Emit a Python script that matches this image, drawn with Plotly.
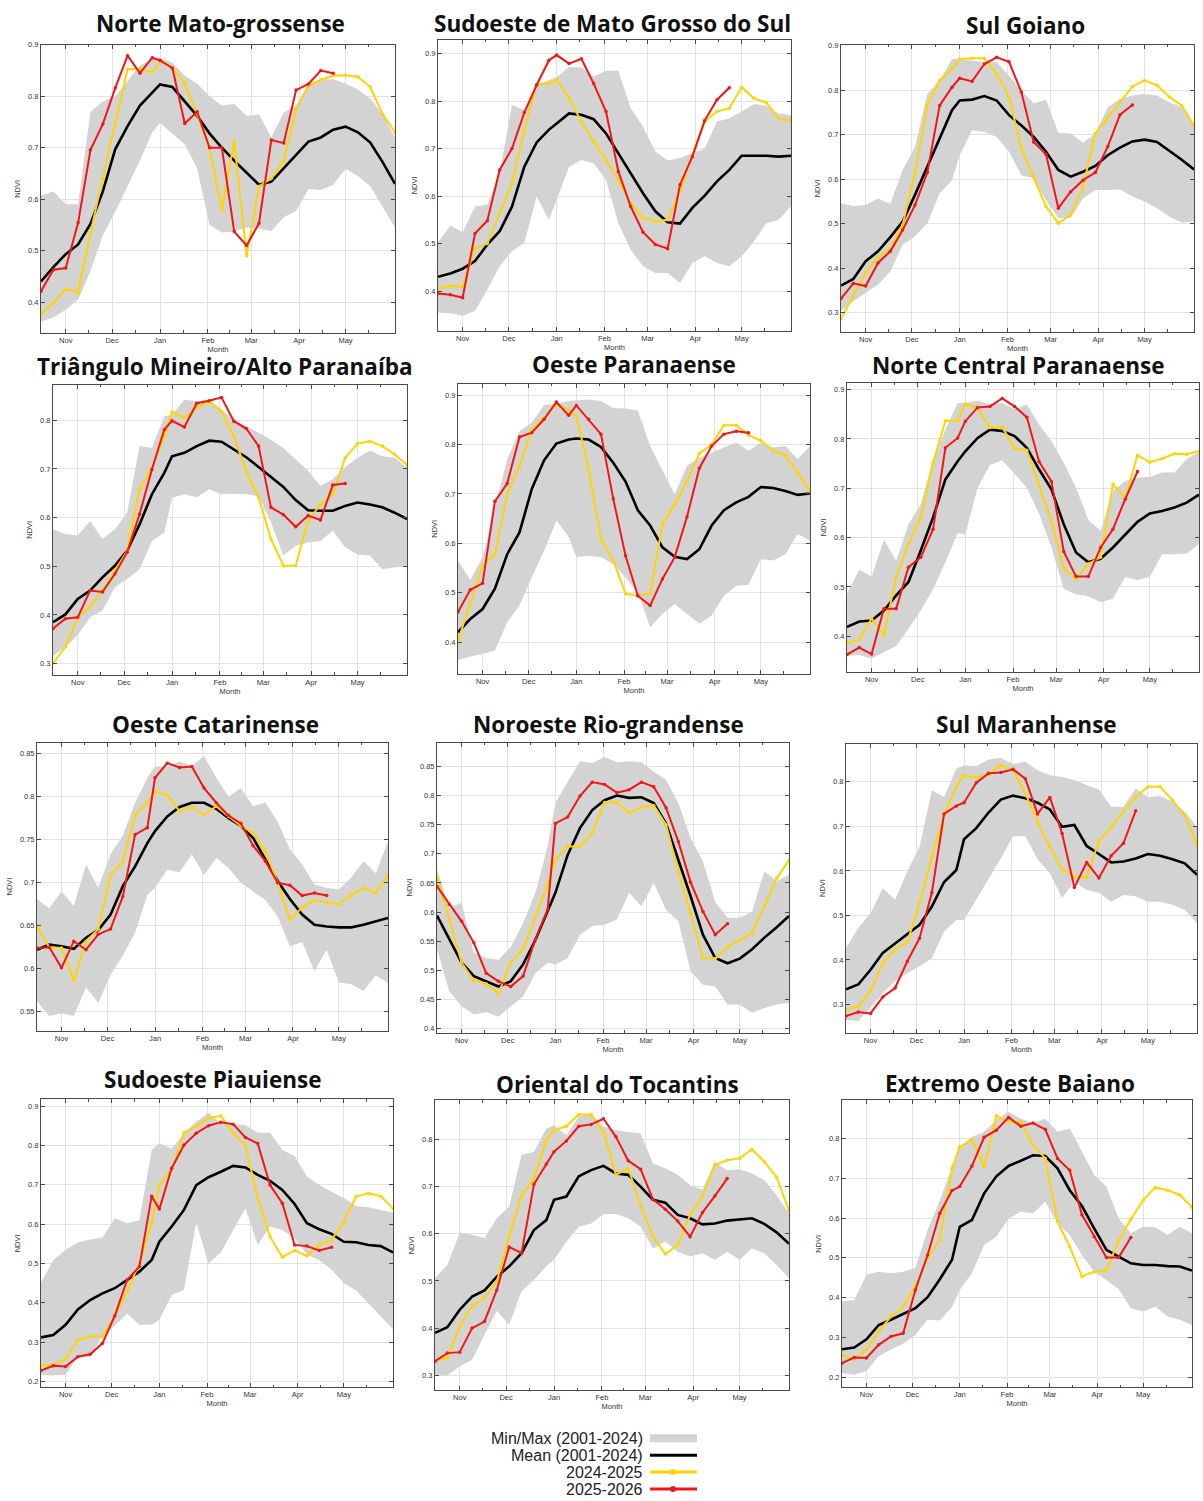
import plotly.graph_objects as go

W, H = 1203, 1501

dates = ["2025-10-16", "2025-10-24", "2025-11-01", "2025-11-09", "2025-11-17", "2025-11-25",
         "2025-12-03", "2025-12-11", "2025-12-19", "2025-12-27", "2026-01-01", "2026-01-09",
         "2026-01-17", "2026-01-25", "2026-02-02", "2026-02-10", "2026-02-18", "2026-02-26",
         "2026-03-06", "2026-03-14", "2026-03-22", "2026-03-30", "2026-04-07", "2026-04-15",
         "2026-04-23", "2026-05-01", "2026-05-09", "2026-05-17", "2026-05-25", "2026-06-02"]
month_ticks = ["2025-11-01", "2025-12-01", "2026-01-01", "2026-02-01", "2026-03-01", "2026-04-01", "2026-05-01"]
month_labels = ["Nov", "Dec", "Jan", "Feb", "Mar", "Apr", "May"]
minor_ticks = ["2025-10-16", "2025-11-16", "2025-12-16", "2026-01-16", "2026-02-15", "2026-03-16", "2026-04-16", "2026-05-16"]

series_names = ["Min/Max (2001-2024)", "Mean (2001-2024)", "2024-2025", "2025-2026"]

# 1 Norte Mato-grossense
nmg_min = [0.362,0.370,0.385,0.405,0.460,0.530,0.575,0.625,0.675,0.730,0.748,0.727,0.707,0.660,0.550,0.535,0.537,0.545,0.543,0.538,0.565,0.577,0.620,0.618,0.628,0.659,0.645,0.625,0.585,0.545]
nmg_max = [0.607,0.615,0.590,0.590,0.770,0.790,0.800,0.830,0.860,0.872,0.875,0.865,0.840,0.825,0.800,0.782,0.785,0.762,0.765,0.720,0.768,0.782,0.825,0.833,0.833,0.825,0.813,0.795,0.765,0.720]
nmg_mean = [0.440,0.468,0.493,0.512,0.552,0.615,0.697,0.742,0.782,0.806,0.823,0.818,0.790,0.762,0.728,0.700,0.675,0.652,0.628,0.634,0.660,0.685,0.712,0.720,0.735,0.741,0.730,0.710,0.672,0.630]
nmg_2425 = [0.377,0.398,0.425,0.419,0.535,0.640,0.750,0.853,0.853,0.847,0.868,0.855,0.825,0.765,0.700,0.580,0.713,0.490,0.625,0.640,0.675,0.775,0.820,0.832,0.840,0.841,0.838,0.818,0.765,0.730]
nmg_2526 = [0.421,0.463,0.466,0.554,0.696,0.746,0.816,0.879,0.845,0.875,0.870,0.855,0.747,0.770,0.700,0.700,0.537,0.510,0.553,0.715,0.709,0.812,0.824,0.850,0.845]

# 2 Sudoeste de Mato Grosso do Sul
sms_min = [0.355,0.353,0.348,0.358,0.403,0.452,0.484,0.501,0.599,0.550,0.592,0.662,0.676,0.669,0.634,0.543,0.487,0.452,0.438,0.438,0.417,0.459,0.473,0.459,0.452,0.473,0.505,0.543,0.550,0.578]
sms_max = [0.503,0.538,0.524,0.578,0.582,0.648,0.792,0.781,0.834,0.844,0.851,0.872,0.871,0.852,0.864,0.864,0.785,0.746,0.694,0.675,0.680,0.690,0.700,0.757,0.764,0.778,0.794,0.790,0.774,0.771]
sms_mean = [0.430,0.437,0.447,0.463,0.498,0.526,0.578,0.662,0.713,0.740,0.753,0.774,0.771,0.762,0.732,0.690,0.648,0.606,0.568,0.545,0.542,0.575,0.601,0.631,0.655,0.685,0.685,0.685,0.683,0.685]
sms_2425 = [0.406,0.410,0.410,0.489,0.500,0.564,0.627,0.740,0.835,0.837,0.845,0.806,0.757,0.715,0.676,0.634,0.585,0.554,0.547,0.550,0.610,0.687,0.757,0.778,0.785,0.829,0.806,0.797,0.763,0.759]
sms_2526 = [0.395,0.392,0.386,0.521,0.548,0.655,0.700,0.776,0.834,0.886,0.897,0.879,0.889,0.837,0.778,0.652,0.578,0.524,0.498,0.489,0.624,0.683,0.759,0.803,0.828]

# 3 Sul Goiano
sg_min = [0.304,0.326,0.345,0.363,0.393,0.453,0.472,0.501,0.568,0.598,0.654,0.710,0.706,0.695,0.662,0.609,0.602,0.553,0.513,0.513,0.557,0.576,0.576,0.577,0.561,0.550,0.535,0.516,0.503,0.505]
sg_max = [0.546,0.540,0.542,0.557,0.545,0.621,0.673,0.792,0.822,0.870,0.870,0.866,0.863,0.863,0.833,0.799,0.770,0.779,0.704,0.703,0.682,0.703,0.762,0.781,0.788,0.792,0.788,0.773,0.762,0.721]
sg_mean = [0.361,0.376,0.416,0.438,0.470,0.505,0.565,0.628,0.688,0.755,0.777,0.779,0.787,0.777,0.744,0.721,0.695,0.662,0.621,0.606,0.617,0.630,0.654,0.671,0.685,0.689,0.684,0.665,0.644,0.622]
sg_2425 = [0.287,0.337,0.390,0.425,0.443,0.498,0.613,0.766,0.822,0.848,0.870,0.872,0.872,0.837,0.785,0.669,0.606,0.539,0.501,0.520,0.583,0.703,0.738,0.773,0.808,0.822,0.811,0.785,0.766,0.721]
sg_2526 = [0.332,0.366,0.360,0.412,0.438,0.486,0.542,0.615,0.766,0.807,0.827,0.820,0.859,0.874,0.864,0.796,0.684,0.656,0.535,0.572,0.598,0.615,0.673,0.745,0.767]

# 4 Triangulo Mineiro/Alto Paranaiba
tm_min = [0.315,0.334,0.358,0.395,0.409,0.457,0.474,0.494,0.552,0.569,0.641,0.648,0.642,0.658,0.648,0.649,0.648,0.644,0.590,0.522,0.542,0.549,0.552,0.573,0.539,0.524,0.522,0.494,0.498,0.499]
tm_max = [0.576,0.566,0.563,0.593,0.556,0.576,0.610,0.747,0.743,0.808,0.812,0.842,0.839,0.842,0.822,0.801,0.788,0.774,0.760,0.743,0.720,0.696,0.665,0.679,0.704,0.723,0.738,0.726,0.723,0.702]
tm_mean = [0.385,0.401,0.433,0.450,0.477,0.501,0.532,0.586,0.648,0.692,0.726,0.733,0.747,0.758,0.756,0.740,0.724,0.704,0.683,0.663,0.636,0.615,0.614,0.614,0.624,0.631,0.627,0.621,0.610,0.597]
tm_2425 = [0.301,0.334,0.395,0.417,0.450,0.491,0.532,0.658,0.702,0.767,0.817,0.805,0.825,0.838,0.818,0.767,0.696,0.641,0.556,0.501,0.501,0.593,0.627,0.648,0.723,0.752,0.757,0.747,0.730,0.708]
tm_2526 = [0.372,0.392,0.395,0.450,0.447,0.484,0.529,0.607,0.699,0.781,0.799,0.786,0.835,0.840,0.847,0.798,0.783,0.747,0.621,0.606,0.581,0.604,0.595,0.667,0.670]

# 5 Oeste Paranaense
op_min = [0.364,0.371,0.376,0.383,0.440,0.474,0.531,0.585,0.646,0.613,0.572,0.575,0.572,0.558,0.531,0.501,0.430,0.457,0.477,0.457,0.437,0.454,0.494,0.514,0.516,0.568,0.565,0.578,0.619,0.605]
op_max = [0.565,0.526,0.572,0.673,0.770,0.827,0.844,0.880,0.882,0.888,0.889,0.891,0.888,0.874,0.873,0.869,0.797,0.747,0.699,0.757,0.773,0.784,0.794,0.804,0.787,0.804,0.794,0.797,0.770,0.797]
op_mean = [0.420,0.447,0.467,0.508,0.578,0.622,0.710,0.768,0.802,0.810,0.812,0.810,0.795,0.763,0.725,0.667,0.636,0.592,0.573,0.568,0.588,0.636,0.667,0.683,0.694,0.714,0.712,0.706,0.698,0.701]
op_2425 = [0.403,0.477,0.555,0.578,0.700,0.755,0.831,0.854,0.881,0.871,0.858,0.750,0.609,0.565,0.498,0.494,0.498,0.639,0.678,0.726,0.782,0.800,0.839,0.839,0.819,0.808,0.787,0.778,0.741,0.706]
op_2526 = [0.461,0.506,0.519,0.685,0.721,0.815,0.824,0.851,0.886,0.859,0.879,0.851,0.821,0.690,0.575,0.494,0.474,0.528,0.572,0.654,0.752,0.797,0.821,0.827,0.824]

# 6 Norte Central Paranaense
ncp_min = [0.360,0.362,0.355,0.368,0.380,0.415,0.452,0.496,0.550,0.609,0.607,0.701,0.747,0.757,0.728,0.701,0.648,0.580,0.496,0.485,0.481,0.469,0.476,0.520,0.514,0.520,0.566,0.566,0.568,0.587]
ncp_max = [0.486,0.535,0.521,0.596,0.553,0.627,0.668,0.759,0.819,0.873,0.873,0.878,0.870,0.873,0.860,0.870,0.829,0.796,0.752,0.701,0.636,0.614,0.695,0.715,0.722,0.723,0.732,0.732,0.759,0.774]
ncp_mean = [0.419,0.430,0.432,0.452,0.483,0.510,0.574,0.641,0.718,0.755,0.775,0.802,0.819,0.816,0.806,0.782,0.738,0.698,0.627,0.570,0.550,0.557,0.580,0.607,0.632,0.649,0.654,0.661,0.671,0.687]
ncp_2425 = [0.387,0.393,0.436,0.402,0.520,0.587,0.641,0.752,0.837,0.837,0.871,0.863,0.823,0.824,0.781,0.777,0.705,0.634,0.537,0.516,0.547,0.560,0.708,0.680,0.767,0.753,0.760,0.770,0.769,0.775]
ncp_2526 = [0.363,0.377,0.364,0.456,0.456,0.540,0.560,0.617,0.782,0.802,0.836,0.864,0.866,0.882,0.866,0.844,0.754,0.714,0.572,0.521,0.521,0.580,0.617,0.678,0.734]

# 7 Oeste Catarinense
oc_min = [0.562,0.545,0.548,0.545,0.578,0.560,0.593,0.615,0.642,0.686,0.694,0.715,0.712,0.733,0.709,0.729,0.717,0.700,0.690,0.680,0.661,0.626,0.631,0.597,0.622,0.584,0.582,0.574,0.592,0.584]
oc_max = [0.681,0.670,0.690,0.673,0.721,0.694,0.733,0.755,0.793,0.822,0.835,0.835,0.841,0.836,0.847,0.822,0.800,0.810,0.789,0.793,0.771,0.739,0.721,0.698,0.694,0.692,0.706,0.725,0.711,0.748]
oc_mean = [0.622,0.628,0.626,0.623,0.636,0.645,0.663,0.696,0.719,0.746,0.760,0.777,0.788,0.793,0.793,0.786,0.775,0.766,0.752,0.727,0.702,0.681,0.663,0.651,0.649,0.648,0.648,0.651,0.655,0.659]
oc_2425 = [0.649,0.625,0.624,0.586,0.632,0.646,0.709,0.724,0.779,0.793,0.806,0.802,0.783,0.788,0.779,0.789,0.777,0.766,0.758,0.737,0.700,0.657,0.671,0.680,0.677,0.675,0.685,0.694,0.688,0.709]
oc_2526 = [0.624,0.625,0.601,0.632,0.622,0.640,0.646,0.684,0.756,0.764,0.822,0.839,0.834,0.835,0.810,0.793,0.778,0.769,0.743,0.725,0.700,0.697,0.685,0.688,0.685]

# 8 Noroeste Rio-grandense
nrg_min = [0.536,0.464,0.438,0.424,0.428,0.420,0.438,0.455,0.495,0.513,0.510,0.521,0.561,0.576,0.578,0.587,0.633,0.610,0.650,0.604,0.584,0.498,0.475,0.472,0.441,0.441,0.427,0.435,0.441,0.444]
nrg_max = [0.673,0.607,0.616,0.530,0.521,0.518,0.540,0.581,0.633,0.713,0.787,0.824,0.859,0.856,0.866,0.857,0.859,0.857,0.841,0.827,0.787,0.727,0.687,0.617,0.590,0.590,0.601,0.670,0.653,0.664]
nrg_mean = [0.594,0.554,0.513,0.490,0.481,0.472,0.481,0.510,0.552,0.601,0.633,0.698,0.744,0.775,0.792,0.800,0.796,0.797,0.787,0.752,0.690,0.627,0.561,0.521,0.512,0.520,0.536,0.556,0.574,0.593]
nrg_2425 = [0.661,0.587,0.513,0.482,0.477,0.460,0.513,0.536,0.590,0.647,0.690,0.713,0.712,0.736,0.788,0.788,0.770,0.780,0.783,0.750,0.670,0.598,0.521,0.520,0.540,0.552,0.564,0.610,0.658,0.689]
nrg_2526 = [0.644,0.613,0.584,0.547,0.495,0.481,0.472,0.490,0.553,0.604,0.752,0.763,0.799,0.823,0.819,0.805,0.810,0.823,0.815,0.779,0.721,0.651,0.601,0.561,0.580]

# 9 Sul Maranhense
sm_min = [0.265,0.263,0.293,0.326,0.352,0.371,0.386,0.404,0.464,0.490,0.490,0.535,0.580,0.628,0.678,0.678,0.626,0.595,0.539,0.576,0.557,0.551,0.531,0.546,0.543,0.531,0.531,0.524,0.513,0.483]
sm_max = [0.427,0.472,0.505,0.561,0.535,0.599,0.654,0.781,0.766,0.830,0.837,0.835,0.850,0.854,0.840,0.845,0.826,0.815,0.811,0.804,0.793,0.783,0.744,0.744,0.785,0.766,0.768,0.755,0.733,0.699]
sm_mean = [0.334,0.345,0.378,0.416,0.437,0.457,0.479,0.520,0.575,0.602,0.671,0.696,0.731,0.760,0.769,0.763,0.753,0.738,0.699,0.703,0.656,0.638,0.619,0.621,0.628,0.638,0.634,0.626,0.617,0.591]
sm_2425 = [0.290,0.295,0.330,0.393,0.423,0.440,0.528,0.632,0.725,0.789,0.815,0.810,0.817,0.837,0.826,0.774,0.710,0.654,0.604,0.587,0.586,0.666,0.699,0.733,0.766,0.789,0.789,0.759,0.725,0.658]
sm_2526 = [0.274,0.283,0.280,0.317,0.337,0.397,0.449,0.551,0.728,0.746,0.753,0.798,0.819,0.821,0.828,0.807,0.728,0.765,0.684,0.563,0.619,0.584,0.634,0.662,0.735]

# 10 Sudoeste Piauiense
sp_min = [0.217,0.215,0.217,0.263,0.263,0.318,0.341,0.373,0.344,0.344,0.357,0.420,0.433,0.604,0.500,0.528,0.585,0.640,0.547,0.594,0.585,0.564,0.522,0.509,0.484,0.450,0.431,0.399,0.365,0.333]
sp_max = [0.450,0.509,0.535,0.553,0.561,0.566,0.615,0.602,0.610,0.788,0.806,0.792,0.831,0.860,0.883,0.856,0.854,0.852,0.832,0.832,0.788,0.773,0.721,0.699,0.682,0.666,0.646,0.643,0.636,0.629]
sp_mean = [0.312,0.318,0.344,0.383,0.407,0.424,0.437,0.458,0.479,0.509,0.555,0.594,0.636,0.699,0.719,0.733,0.748,0.744,0.725,0.710,0.687,0.651,0.602,0.587,0.575,0.555,0.554,0.547,0.544,0.528]
sp_2425 = [0.242,0.242,0.257,0.306,0.314,0.314,0.365,0.428,0.500,0.602,0.699,0.738,0.832,0.848,0.869,0.875,0.831,0.801,0.666,0.568,0.516,0.533,0.519,0.547,0.560,0.606,0.670,0.678,0.671,0.640]
sp_2526 = [0.228,0.240,0.238,0.263,0.269,0.297,0.367,0.458,0.492,0.671,0.638,0.742,0.801,0.831,0.850,0.859,0.854,0.820,0.805,0.699,0.653,0.547,0.544,0.533,0.541]

# 11 Oriental do Tocantins
ot_min = [0.301,0.299,0.319,0.333,0.386,0.437,0.407,0.478,0.502,0.531,0.545,0.583,0.615,0.622,0.642,0.642,0.633,0.615,0.569,0.583,0.562,0.552,0.559,0.545,0.562,0.545,0.569,0.559,0.534,0.506]
ot_max = [0.506,0.534,0.603,0.598,0.591,0.633,0.658,0.767,0.774,0.823,0.830,0.809,0.849,0.854,0.827,0.820,0.816,0.813,0.749,0.739,0.725,0.703,0.694,0.753,0.735,0.737,0.728,0.714,0.682,0.643]
ot_mean = [0.390,0.402,0.439,0.467,0.480,0.509,0.531,0.559,0.608,0.629,0.672,0.679,0.722,0.735,0.744,0.728,0.725,0.700,0.672,0.666,0.640,0.633,0.620,0.622,0.628,0.631,0.633,0.621,0.603,0.579]
ot_2425 = [0.330,0.337,0.404,0.447,0.464,0.499,0.594,0.680,0.717,0.799,0.820,0.828,0.853,0.853,0.816,0.725,0.739,0.661,0.594,0.557,0.576,0.640,0.679,0.746,0.756,0.760,0.779,0.753,0.720,0.649]
ot_2526 = [0.330,0.347,0.349,0.400,0.414,0.481,0.572,0.559,0.705,0.748,0.774,0.797,0.828,0.832,0.844,0.806,0.755,0.737,0.673,0.652,0.627,0.594,0.645,0.680,0.717]

# 12 Extremo Oeste Baiano
eob_min = [0.210,0.206,0.215,0.252,0.269,0.284,0.306,0.344,0.342,0.376,0.419,0.461,0.532,0.553,0.599,0.616,0.612,0.641,0.587,0.557,0.507,0.465,0.444,0.421,0.373,0.365,0.377,0.352,0.344,0.331]
eob_max = [0.390,0.394,0.457,0.465,0.461,0.465,0.474,0.570,0.645,0.725,0.779,0.804,0.817,0.848,0.867,0.850,0.839,0.850,0.817,0.825,0.767,0.708,0.679,0.599,0.562,0.578,0.577,0.557,0.578,0.562]
eob_mean = [0.270,0.274,0.295,0.331,0.344,0.359,0.373,0.401,0.446,0.495,0.578,0.595,0.662,0.705,0.731,0.744,0.758,0.756,0.725,0.670,0.630,0.574,0.520,0.503,0.486,0.482,0.482,0.479,0.478,0.468]
eob_2425 = [0.254,0.245,0.269,0.315,0.352,0.377,0.428,0.499,0.546,0.725,0.779,0.797,0.729,0.857,0.842,0.842,0.783,0.750,0.591,0.528,0.453,0.465,0.469,0.543,0.597,0.645,0.677,0.670,0.658,0.627]
eob_2526 = [0.235,0.249,0.248,0.281,0.302,0.310,0.419,0.507,0.612,0.669,0.679,0.731,0.803,0.821,0.853,0.831,0.839,0.823,0.750,0.720,0.608,0.553,0.501,0.501,0.551]

titles = ["Norte Mato-grossense", "Sudoeste de Mato Grosso do Sul", "Sul Goiano",
          "Triângulo Mineiro/Alto Paranaíba", "Oeste Paranaense", "Norte Central Paranaense",
          "Oeste Catarinense", "Noroeste Rio-grandense", "Sul Maranhense",
          "Sudoeste Piauiense", "Oriental do Tocantins", "Extremo Oeste Baiano"]

panel_data = [
    (nmg_min, nmg_max, nmg_mean, nmg_2425, nmg_2526),
    (sms_min, sms_max, sms_mean, sms_2425, sms_2526),
    (sg_min, sg_max, sg_mean, sg_2425, sg_2526),
    (tm_min, tm_max, tm_mean, tm_2425, tm_2526),
    (op_min, op_max, op_mean, op_2425, op_2526),
    (ncp_min, ncp_max, ncp_mean, ncp_2425, ncp_2526),
    (oc_min, oc_max, oc_mean, oc_2425, oc_2526),
    (nrg_min, nrg_max, nrg_mean, nrg_2425, nrg_2526),
    (sm_min, sm_max, sm_mean, sm_2425, sm_2526),
    (sp_min, sp_max, sp_mean, sp_2425, sp_2526),
    (ot_min, ot_max, ot_mean, ot_2425, ot_2526),
    (eob_min, eob_max, eob_mean, eob_2425, eob_2526),
]

# layout: plot box in pixels (x0, y0, x1, y1), y range, tick step, first tick, title centre
layout_spec = [
    dict(box=(41, 41, 395, 330), yr=(0.34, 0.90), dt=0.1, t0=0.4, tc=(220, 20)),
    dict(box=(438, 36, 791, 328), yr=(0.316, 0.929), dt=0.1, t0=0.4, tc=(612, 20)),
    dict(box=(841, 41, 1194, 329), yr=(0.257, 0.902), dt=0.1, t0=0.3, tc=(1025, 22)),
    dict(box=(53, 382, 407, 673), yr=(0.277, 0.873), dt=0.1, t0=0.3, tc=(225, 364)),
    dict(box=(458, 381, 810, 672), yr=(0.336, 0.923), dt=0.1, t0=0.4, tc=(634, 362)),
    dict(box=(847, 380, 1199, 670), yr=(0.328, 0.914), dt=0.1, t0=0.4, tc=(1018, 363)),
    dict(box=(37, 741, 388, 1030), yr=(0.528, 0.863), dt=0.05, t0=0.55, tc=(215, 723)),
    dict(box=(437, 741, 789, 1032), yr=(0.393, 0.891), dt=0.05, t0=0.4, tc=(608, 723)),
    dict(box=(846, 742, 1197, 1032), yr=(0.237, 0.886), dt=0.1, t0=0.3, tc=(1026, 723)),
    dict(box=(41, 1099, 393, 1388), yr=(0.185, 0.917), dt=0.1, t0=0.2, tc=(213, 1079)),
    dict(box=(435, 1100, 789, 1391), yr=(0.268, 0.883), dt=0.1, t0=0.3, tc=(617, 1084)),
    dict(box=(842, 1100, 1192, 1388), yr=(0.174, 0.896), dt=0.1, t0=0.2, tc=(1010, 1083)),
]

BAND = "#d3d3d3"
MEAN = "#000000"
Y2425 = "#FFD400"
R2526 = "#F21616"
AX = "#4a4a4a"
TXT = "#333333"

fig = go.Figure()
annotations = []
shapes = []

for i, (spec, dat, title) in enumerate(zip(layout_spec, panel_data, titles)):
    n = "" if i == 0 else str(i + 1)
    xr, yr_ = "x" + n, "y" + n
    vmin, vmax, vmean, v2425, v2526 = dat
    fig.add_trace(go.Scatter(x=dates, y=vmin, xaxis=xr, yaxis=yr_, mode="lines",
                             line=dict(width=0, color=BAND), showlegend=False, hoverinfo="skip",
                             name=series_names[0]))
    fig.add_trace(go.Scatter(x=dates, y=vmax, xaxis=xr, yaxis=yr_, mode="lines", fill="tonexty",
                             fillcolor=BAND, line=dict(width=0, color=BAND), showlegend=False,
                             name=series_names[0]))
    fig.add_trace(go.Scatter(x=dates, y=vmean, xaxis=xr, yaxis=yr_, mode="lines",
                             line=dict(width=2.6, color=MEAN), showlegend=False, name=series_names[1]))
    fig.add_trace(go.Scatter(x=dates[:len(v2425)], y=v2425, xaxis=xr, yaxis=yr_, mode="lines+markers",
                             line=dict(width=2, color=Y2425), marker=dict(size=3.5, color=Y2425),
                             showlegend=False, name=series_names[2]))
    fig.add_trace(go.Scatter(x=dates[:len(v2526)], y=v2526, xaxis=xr, yaxis=yr_, mode="lines+markers",
                             line=dict(width=2, color=R2526), marker=dict(size=3.5, color=R2526),
                             showlegend=False, name=series_names[3]))

    x0, y0, x1, y1 = spec["box"]
    fig.layout["xaxis" + n] = dict(
        domain=[x0 / W, x1 / W], anchor=yr_, type="date", range=[dates[0], dates[-1]],
        tickmode="array", tickvals=month_ticks, ticktext=month_labels,
        ticks="inside", ticklen=4, tickwidth=0.8, tickcolor=AX,
        showline=True, linecolor=AX, linewidth=1, mirror="allticks",
        showgrid=True, gridcolor="#e2e2e2", gridwidth=0.8, zeroline=False,
        tickfont=dict(size=7.5, color=TXT, family="Liberation Sans, Arial"),
        title=dict(text="Month", font=dict(size=7.5, color=TXT, family="Liberation Sans, Arial"), standoff=1),
        minor=dict(tickmode="array", tickvals=minor_ticks, ticks="inside", ticklen=2.5, tickcolor=AX, showgrid=False),
        fixedrange=True,
    )
    fig.layout["yaxis" + n] = dict(
        domain=[1 - y1 / H, 1 - y0 / H], anchor=xr, range=list(spec["yr"]),
        tickmode="linear", tick0=spec["t0"], dtick=spec["dt"],
        ticks="inside", ticklen=4, tickwidth=0.8, tickcolor=AX,
        showline=True, linecolor=AX, linewidth=1, mirror="allticks",
        showgrid=True, gridcolor="#e2e2e2", gridwidth=0.8, zeroline=False,
        tickfont=dict(size=7.5, color=TXT, family="Liberation Sans, Arial"),
        title=dict(text="NDVI", font=dict(size=7.5, color=TXT, family="Liberation Sans, Arial"), standoff=6),
        fixedrange=True,
    )
    tx, ty = spec["tc"]
    annotations.append(dict(text="<b>" + title + "</b>", x=tx / W, y=1 - ty / H, xref="paper", yref="paper",
                            xanchor="center", yanchor="middle", showarrow=False,
                            font=dict(size=22.5, color="#111111", family="Open Sans")))

# custom legend (text left, sample right)
leg_rows = [1439, 1456, 1473, 1490]
leg_styles = [(BAND, 8, False), (MEAN, 3, False), (Y2425, 3, True), (R2526, 3, True)]
for name, yy, (col, lw, dot) in zip(series_names, leg_rows, leg_styles):
    annotations.append(dict(text=name, x=645 / W, y=1 - yy / H, xref="paper", yref="paper",
                            xanchor="right", yanchor="middle", showarrow=False,
                            font=dict(size=16, color="#222222", family="Liberation Sans, Arial")))
    shapes.append(dict(type="line", xref="paper", yref="paper", x0=650 / W, x1=697 / W,
                       y0=1 - yy / H, y1=1 - yy / H, line=dict(color=col, width=lw)))
    if dot:
        shapes.append(dict(type="circle", xref="paper", yref="paper",
                           x0=670 / W, x1=676 / W, y0=1 - (yy + 3) / H, y1=1 - (yy - 3) / H,
                           fillcolor=col, line=dict(color=col, width=0)))

fig.update_layout(width=W, height=H, autosize=False, margin=dict(l=0, r=0, t=0, b=0),
                  paper_bgcolor="white", plot_bgcolor="white",
                  annotations=annotations, shapes=shapes, showlegend=False,
                  font=dict(family="Liberation Sans, Arial"))

fig.write_html("out.html", config={"displayModeBar": False},
               post_script="document.body.style.margin='0px';")
